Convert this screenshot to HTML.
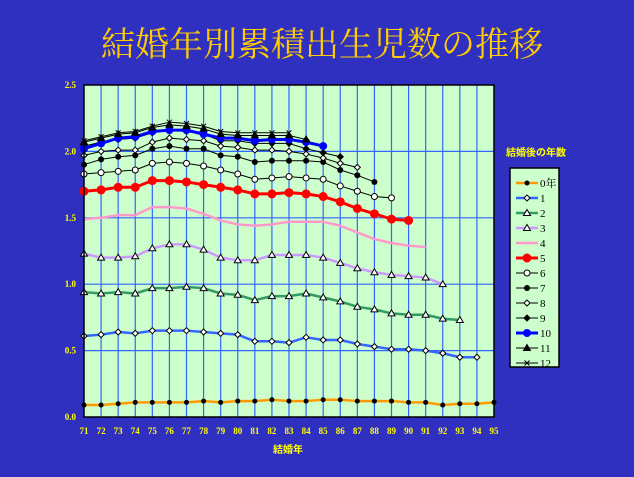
<!DOCTYPE html>
<html><head><meta charset="utf-8"><style>
html,body{margin:0;padding:0;background:#3030c0;}
svg{display:block;}
</style></head><body>
<svg id="chart" width="634" height="477" xmlns="http://www.w3.org/2000/svg">
<rect x="0" y="0" width="634" height="477" fill="#3030c0"/>
<text x="322" y="56" text-anchor="middle" fill="#ffcc00" font-size="34" font-family="'Liberation Serif','Noto Serif CJK SC',serif">結婚年別累積出生児数の推移</text>
<rect x="84" y="85" width="410" height="332" fill="#ccffcc"/>
<g id="grid"></g>
<g id="series"></g>
<rect x="84" y="85" width="410" height="332" fill="none" stroke="#000" stroke-width="1.5"/>
<g id="axes"></g>
<text x="288" y="453" text-anchor="middle" fill="#ffff00" font-size="10" font-weight="bold" font-family="'Liberation Serif','Noto Sans CJK JP',serif">結婚年</text>
<text x="506" y="156" fill="#ffff00" font-size="10" font-weight="bold" font-family="'Liberation Sans','Noto Sans CJK JP',sans-serif">結婚後の年数</text>
<rect x="510" y="168" width="49" height="199" fill="#ccffcc" stroke="#000" stroke-width="1.5"/>
<g id="legend"></g>
</svg>
<script>
const years = [71,72,73,74,75,76,77,78,79,80,81,82,83,84,85,86,87,88,89,90,91,92,93,94,95];
const yTicks = [0.0,0.5,1.0,1.5,2.0,2.5];
const seriesNames = ['0年','1','2','3','4','5','6','7','8','9','10','11','12'];
const s0 = [0.09,0.09,0.10,0.11,0.11,0.11,0.11,0.12,0.11,0.12,0.12,0.13,0.12,0.12,0.13,0.13,0.12,0.12,0.12,0.11,0.11,0.09,0.10,0.10,0.11];
const s1 = [0.61,0.62,0.64,0.63,0.65,0.65,0.65,0.64,0.63,0.62,0.57,0.57,0.56,0.60,0.58,0.58,0.55,0.53,0.51,0.51,0.50,0.48,0.45,0.45];
const s2 = [0.94,0.93,0.94,0.93,0.97,0.97,0.98,0.97,0.93,0.92,0.88,0.91,0.91,0.93,0.90,0.87,0.83,0.81,0.78,0.77,0.77,0.74,0.73];
const s3 = [1.23,1.20,1.20,1.21,1.27,1.30,1.30,1.26,1.20,1.18,1.18,1.22,1.22,1.22,1.20,1.16,1.12,1.09,1.07,1.06,1.05,1.00];
const s4 = [1.49,1.50,1.52,1.52,1.58,1.58,1.57,1.53,1.48,1.45,1.44,1.45,1.47,1.47,1.47,1.44,1.39,1.34,1.31,1.29,1.28];
const s5 = [1.70,1.71,1.73,1.73,1.78,1.78,1.77,1.75,1.73,1.71,1.68,1.68,1.69,1.68,1.66,1.62,1.57,1.53,1.49,1.48];
const s6 = [1.83,1.84,1.85,1.86,1.91,1.92,1.91,1.89,1.86,1.83,1.79,1.80,1.81,1.80,1.79,1.74,1.70,1.66,1.65];
const s7 = [1.90,1.94,1.96,1.97,2.02,2.04,2.02,2.02,1.97,1.96,1.92,1.93,1.93,1.93,1.92,1.86,1.82,1.77];
const s8 = [1.97,2.00,2.01,2.01,2.07,2.10,2.09,2.08,2.04,2.03,2.01,2.01,2.00,1.98,1.95,1.91,1.88];
const s9 = [2.04,2.07,2.09,2.10,2.14,2.16,2.15,2.13,2.08,2.08,2.06,2.06,2.06,2.02,1.99,1.96];
const s10 = [2.02,2.06,2.10,2.11,2.15,2.16,2.16,2.13,2.10,2.10,2.08,2.09,2.09,2.07,2.04];
const s11 = [2.07,2.10,2.13,2.14,2.18,2.20,2.19,2.17,2.13,2.12,2.12,2.12,2.12,2.09];
const s12 = [2.08,2.11,2.14,2.15,2.19,2.22,2.21,2.19,2.15,2.14,2.14,2.14,2.14];
const allSeries = [s0,s1,s2,s3,s4,s5,s6,s7,s8,s9,s10,s11,s12];

const NS='http://www.w3.org/2000/svg';
const X0=84,X1=494,Y0=417,Y1=85;
const xs=i=>X0+i*(X1-X0)/(years.length-1);
const ys=v=>Y0-(v/2.5)*(Y0-Y1);
function mk(tag,attrs,parent){const e=document.createElementNS(NS,tag);for(const k in attrs)e.setAttribute(k,attrs[k]);parent.appendChild(e);return e;}
const grid=document.getElementById('grid'),axes=document.getElementById('axes'),ser=document.getElementById('series'),leg=document.getElementById('legend');
const tf="'Liberation Serif',serif";
years.forEach((y,i)=>{
  if(i>0&&i<years.length-1){const l=mk('line',{x1:xs(i),x2:xs(i),y1:Y1,y2:Y0,stroke:'#3366ff','stroke-width':1.2},grid);
  
  }
  const t=mk('text',{x:xs(i),y:434,'text-anchor':'middle',fill:'#ffff00','font-size':9,'font-weight':'bold','font-family':tf},axes);
  t.textContent=y;
  
  
});
yTicks.forEach(v=>{
  if(v>0&&v<2.5){const l=mk('line',{x1:X0,x2:X1,y1:ys(v),y2:ys(v),stroke:'#3366ff','stroke-width':1.2},grid);
  
  }
  const t=mk('text',{x:76,y:ys(v)+3,'text-anchor':'end',fill:'#ffff00','font-size':9,'font-weight':'bold','font-family':tf},axes);
  t.textContent=v.toFixed(1);
  
  
});
const styles=[
 {c:'#ff9900',w:2.5,m:'dot',mf:'#000',r:2.5},
 {c:'#3366ff',w:2.5,m:'diamond',mf:'#fff',r:3},
 {c:'#339966',w:2.5,m:'tri',mf:'#fff',r:3.5},
 {c:'#cc99ff',w:2.5,m:'tri',mf:'#fff',r:3.5},
 {c:'#ff99cc',w:2.5,m:'none',mf:'none',r:0},
 {c:'#ff0000',w:3,m:'dot',mf:'#ff0000',r:4.5},
 {c:'#000',w:1,m:'dot',mf:'#fff',r:3},
 {c:'#000',w:1,m:'dot',mf:'#000',r:3},
 {c:'#000',w:1,m:'diamond',mf:'#fff',r:3},
 {c:'#000',w:1,m:'diamond',mf:'#000',r:3},
 {c:'#0000ff',w:3,m:'dot',mf:'#0000ff',r:4},
 {c:'#000',w:1,m:'tri',mf:'#000',r:3.5},
 {c:'#000',w:1,m:'x',mf:'#000',r:2.5}];
function marker(st,x,y,parent,name){
  let e=null;
  if(st.m==='dot')e=mk('circle',{cx:x,cy:y,r:st.r,fill:st.mf,stroke:'#000','stroke-width':st.mf==='#fff'?1:0},parent);
  else if(st.m==='diamond')e=mk('polygon',{points:`${x},${y-st.r} ${x+st.r},${y} ${x},${y+st.r} ${x-st.r},${y}`,fill:st.mf,stroke:'#000','stroke-width':1},parent);
  else if(st.m==='tri')e=mk('polygon',{points:`${x},${y-st.r} ${x+st.r},${y+st.r*0.7} ${x-st.r},${y+st.r*0.7}`,fill:st.mf,stroke:'#000','stroke-width':1},parent);
  else if(st.m==='x')e=mk('path',{d:`M${x-st.r},${y-st.r}L${x+st.r},${y+st.r}M${x+st.r},${y-st.r}L${x-st.r},${y+st.r}`,stroke:'#000','stroke-width':1},parent);
  if(e){
  }
}
allSeries.forEach((arr,k)=>{
  const st=styles[k];
  const g=mk('g',{},ser);
  
  
  const pts=arr.map((v,i)=>xs(i)+','+ys(v)).join(' ');
  const pl=mk('polyline',{points:pts,fill:'none',stroke:st.c,'stroke-width':st.w,'stroke-linejoin':'round'},g);
  
  
  arr.forEach((v,i)=>marker(st,xs(i),ys(v),g,'point-'+k));
  // legend
  const ly=183+k*15;
  const ll=mk('line',{x1:516,x2:538,y1:ly,y2:ly,stroke:st.c,'stroke-width':st.w},leg);
  
  
  marker(st,527,ly,leg,'legend-marker-'+k);
  const t=mk('text',{x:540,y:ly+4,fill:'#000','font-size':11,'font-family':"'Liberation Serif','Noto Serif CJK JP',serif"},leg);
  t.textContent=seriesNames[k];
  
  
});
</script>
</body></html>
